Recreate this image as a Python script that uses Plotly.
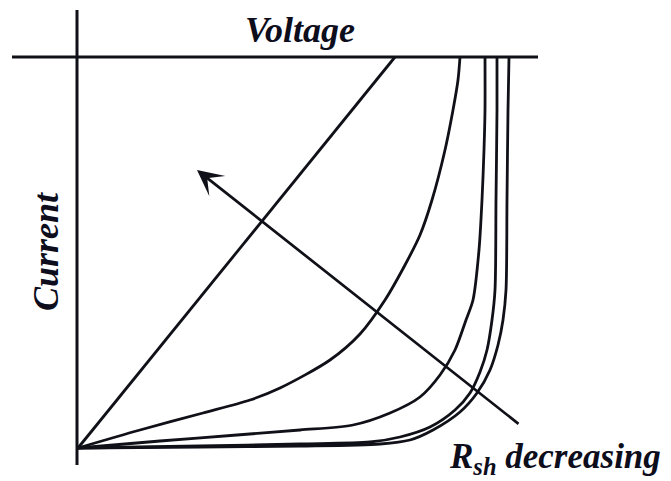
import plotly.graph_objects as go

# ---- data (voltage / current in arbitrary units, origin at the curves' common start) ----
v_line = [0, 317]
i_line = [0, 391]

v_c2 = [0, 62, 125, 172, 202, 252, 282, 307, 327, 342, 354, 367, 375, 380, 382]
i_c2 = [0, 18, 35, 48, 60, 88, 114, 148, 183, 213, 248, 298, 338, 368, 391]

v_c3 = [0, 82, 159, 222, 275, 312, 342, 362, 377, 388, 395, 401, 404, 406, 407, 407]
i_c3 = [0, 7, 13, 18, 23, 35, 51, 73, 98, 128, 148, 198, 248, 298, 338, 391]

v_c4 = [0, 122, 222, 292, 322, 352, 377, 392, 402, 409, 414, 417, 418, 419, 419]
i_c4 = [0, 2, 4, 6, 11, 21, 38, 55, 76, 98, 128, 158, 248, 338, 391]

v_c5 = [0, 122, 222, 302, 332, 355, 382, 399, 412, 420, 425, 428, 429, 430, 431]
i_c5 = [0, 1, 2, 4, 8, 18, 36, 55, 78, 103, 128, 158, 248, 338, 391]

curves = [(v_line, i_line, "linear"), (v_c2, i_c2, "spline"), (v_c3, i_c3, "spline"),
          (v_c4, i_c4, "spline"), (v_c5, i_c5, "spline")]

I_SC = 391          # level of the top (voltage) axis line
arrow_tail = (442, 23)
arrow_tip = (119, 278)

INK = "#101018"
LW = 2.8
font_lbl = dict(family="Liberation Serif", size=36, color="#0d0d1c", weight="bold", style="italic")
font_rsh = dict(family="Liberation Serif", size=35, color="#0d0d1c", weight="bold", style="italic")

fig = go.Figure()
for v, i, shape in curves:
    fig.add_trace(go.Scatter(x=v, y=i, mode="lines",
                             line=dict(color=INK, width=LW, shape=shape, smoothing=0.8),
                             hoverinfo="skip", showlegend=False))

# axes lines
fig.add_shape(type="line", x0=-66, x1=460, y0=I_SC, y1=I_SC, line=dict(color=INK, width=3))
fig.add_shape(type="line", x0=-1, x1=-1, y0=-17, y1=438, line=dict(color=INK, width=3))

# arrow
fig.add_annotation(x=arrow_tip[0], y=arrow_tip[1], ax=arrow_tail[0], ay=arrow_tail[1],
                   xref="x", yref="y", axref="x", ayref="y", text="", showarrow=True,
                   arrowhead=3, arrowsize=1.6, arrowwidth=2.7, arrowcolor=INK, standoff=0)

# labels
fig.add_annotation(x=222, y=418, xref="x", yref="y", text="Voltage", showarrow=False,
                   font=font_lbl, xanchor="center", yanchor="middle")
fig.add_annotation(x=-32, y=196, xref="x", yref="y", text="Current", showarrow=False,
                   font=font_lbl, textangle=-90, xanchor="center", yanchor="middle")
fig.add_annotation(x=369, y=-10, xref="x", yref="y", text="R<sub>sh</sub> decreasing",
                   showarrow=False, font=font_rsh, xanchor="left", yanchor="middle")

fig.update_layout(width=671, height=481, margin=dict(l=0, r=0, t=0, b=0),
                  paper_bgcolor="white", plot_bgcolor="white",
                  xaxis=dict(range=[-78, 593], visible=False, fixedrange=True),
                  yaxis=dict(range=[-33, 448], visible=False, fixedrange=True))

fig.write_html("out.html")
